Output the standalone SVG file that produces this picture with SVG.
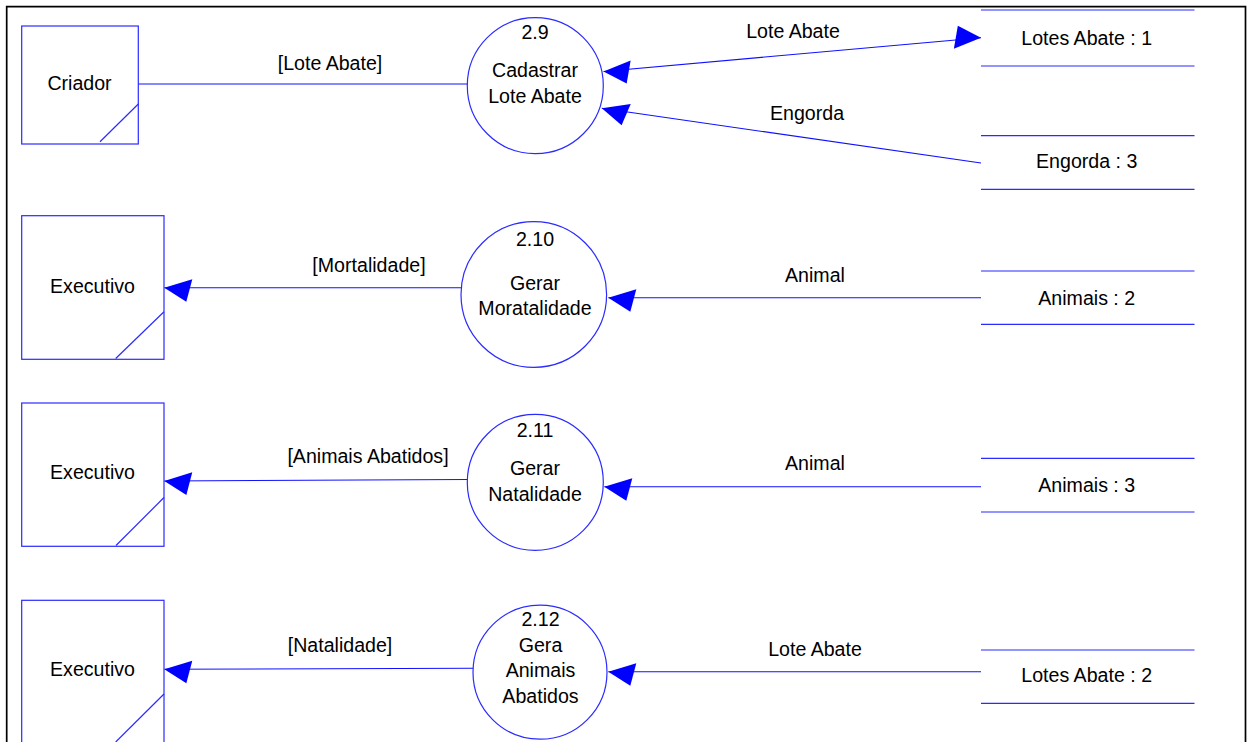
<svg xmlns="http://www.w3.org/2000/svg" width="1247" height="742" viewBox="0 0 1247 742">
  <style>
    text { font-family: "Liberation Sans", Arial, sans-serif; font-size: 19.6px; fill: #000; stroke: none; text-anchor: middle; }
    .box, .proc { fill: #fff; stroke: #2b2bff; stroke-width: 1.2; }
    .mark { stroke: #2b2bff; stroke-width: 1.2; }
    .flow { stroke: #1010ff; stroke-width: 1.1; fill: none; }
    .in { marker-end: url(#arr); }
    .both { marker-start: url(#arrS); marker-end: url(#arr); }
  </style>
  <defs>
    <marker id="arr" markerUnits="userSpaceOnUse" orient="auto" refX="0" refY="0" markerWidth="40" markerHeight="40" viewBox="-30 -20 40 40" overflow="visible">
      <path d="M0,0 L-22,-14 L-28,8.5 Z" fill="#0000ff"/>
    </marker>
    <marker id="arrS" markerUnits="userSpaceOnUse" orient="auto-start-reverse" refX="0" refY="0" markerWidth="40" markerHeight="40" viewBox="-30 -20 40 40" overflow="visible">
      <path d="M0,0 L-22,-14 L-28,8.5 Z" fill="#0000ff"/>
    </marker>
  </defs>

  <rect width="1247" height="742" fill="#fff"/>
  <!-- page frame -->
  <path d="M6.7,760 V6.7 H1245.5 V760" fill="none" stroke="#000" stroke-width="1.7"/>

  <!-- connectors -->
  <g id="connectors">
    <line class="flow" x1="138" y1="84" x2="467.5" y2="84"/>
    <line class="flow both" x1="603.5" y1="71.5" x2="981" y2="37.7"/>
    <line class="flow in" x1="981" y1="163" x2="601.8" y2="108.3"/>

    <line class="flow in" x1="461" y1="287.7" x2="164.3" y2="287.7"/>
    <line class="flow in" x1="981" y1="297.7" x2="608.3" y2="297.7"/>

    <line class="flow in" x1="467.5" y1="479.5" x2="164.3" y2="481"/>
    <line class="flow in" x1="981" y1="486.7" x2="604.3" y2="486.7"/>

    <line class="flow in" x1="473.3" y1="668.3" x2="164.3" y2="669.3"/>
    <line class="flow in" x1="981" y1="671.7" x2="608.3" y2="671.7"/>

    <text x="330" y="70">[Lote Abate]</text>
    <text x="793" y="38">Lote Abate</text>
    <text x="807" y="120">Engorda</text>
    <text x="369" y="272">[Mortalidade]</text>
    <text x="815" y="282">Animal</text>
    <text x="368" y="463">[Animais Abatidos]</text>
    <text x="815" y="470">Animal</text>
    <text x="340" y="652">[Natalidade]</text>
    <text x="815" y="656">Lote Abate</text>
  </g>

  <!-- external entities -->
  <g id="criador">
    <rect class="box" x="21.7" y="26" width="116.6" height="118"/>
    <line class="mark" x1="138.3" y1="104" x2="100" y2="141.7"/>
    <text x="79.5" y="90">Criador</text>
  </g>
  <g id="executivo-1">
    <rect class="box" x="21.7" y="215.7" width="142.3" height="143.6"/>
    <line class="mark" x1="164" y1="311.7" x2="115.7" y2="358.5"/>
    <text x="92.5" y="293.3">Executivo</text>
  </g>
  <g id="executivo-2">
    <rect class="box" x="21.7" y="403" width="142.3" height="143.3"/>
    <line class="mark" x1="164" y1="497.5" x2="116" y2="545.5"/>
    <text x="92.5" y="479">Executivo</text>
  </g>
  <g id="executivo-3">
    <rect class="box" x="21.7" y="600.3" width="142.3" height="160"/>
    <line class="mark" x1="164" y1="694" x2="115.7" y2="742"/>
    <text x="92.5" y="676">Executivo</text>
  </g>

  <!-- processes -->
  <g id="p2-9">
    <circle class="proc" cx="535.3" cy="85.7" r="68"/>
    <text x="535" y="39.3">2.9</text>
    <text x="535" y="77.3">Cadastrar</text>
    <text x="535" y="103.3">Lote Abate</text>
  </g>
  <g id="p2-10">
    <circle class="proc" cx="533.8" cy="294.5" r="72.8"/>
    <text x="535" y="245.7">2.10</text>
    <text x="535" y="290">Gerar</text>
    <text x="535" y="315">Moratalidade</text>
  </g>
  <g id="p2-11">
    <circle class="proc" cx="535.3" cy="482.3" r="68"/>
    <text x="535" y="436.7">2.11</text>
    <text x="535" y="475">Gerar</text>
    <text x="535" y="500.7">Natalidade</text>
  </g>
  <g id="p2-12">
    <circle class="proc" cx="540" cy="672.2" r="67"/>
    <text x="540.5" y="626">2.12</text>
    <text x="540.5" y="651.7">Gera</text>
    <text x="540.5" y="677.3">Animais</text>
    <text x="540.5" y="703.3">Abatidos</text>
  </g>

  <!-- data stores -->
  <g id="store-lotes-abate-1">
    <line class="mark" x1="981" y1="10" x2="1194.5" y2="10"/>
    <line class="mark" x1="981" y1="66" x2="1194.5" y2="66"/>
    <text x="1086.7" y="45">Lotes Abate : 1</text>
  </g>
  <g id="store-engorda-3">
    <line class="mark" x1="981" y1="135.7" x2="1194.5" y2="135.7"/>
    <line class="mark" x1="981" y1="189.3" x2="1194.5" y2="189.3"/>
    <text x="1086.7" y="168.3">Engorda : 3</text>
  </g>
  <g id="store-animais-2">
    <line class="mark" x1="981" y1="271" x2="1194.5" y2="271"/>
    <line class="mark" x1="981" y1="324.3" x2="1194.5" y2="324.3"/>
    <text x="1086.7" y="305">Animais : 2</text>
  </g>
  <g id="store-animais-3">
    <line class="mark" x1="981" y1="458.3" x2="1194.5" y2="458.3"/>
    <line class="mark" x1="981" y1="512" x2="1194.5" y2="512"/>
    <text x="1086.7" y="492">Animais : 3</text>
  </g>
  <g id="store-lotes-abate-2">
    <line class="mark" x1="981" y1="650" x2="1194.5" y2="650"/>
    <line class="mark" x1="981" y1="703.3" x2="1194.5" y2="703.3"/>
    <text x="1086.7" y="681.7">Lotes Abate : 2</text>
  </g>
</svg>
